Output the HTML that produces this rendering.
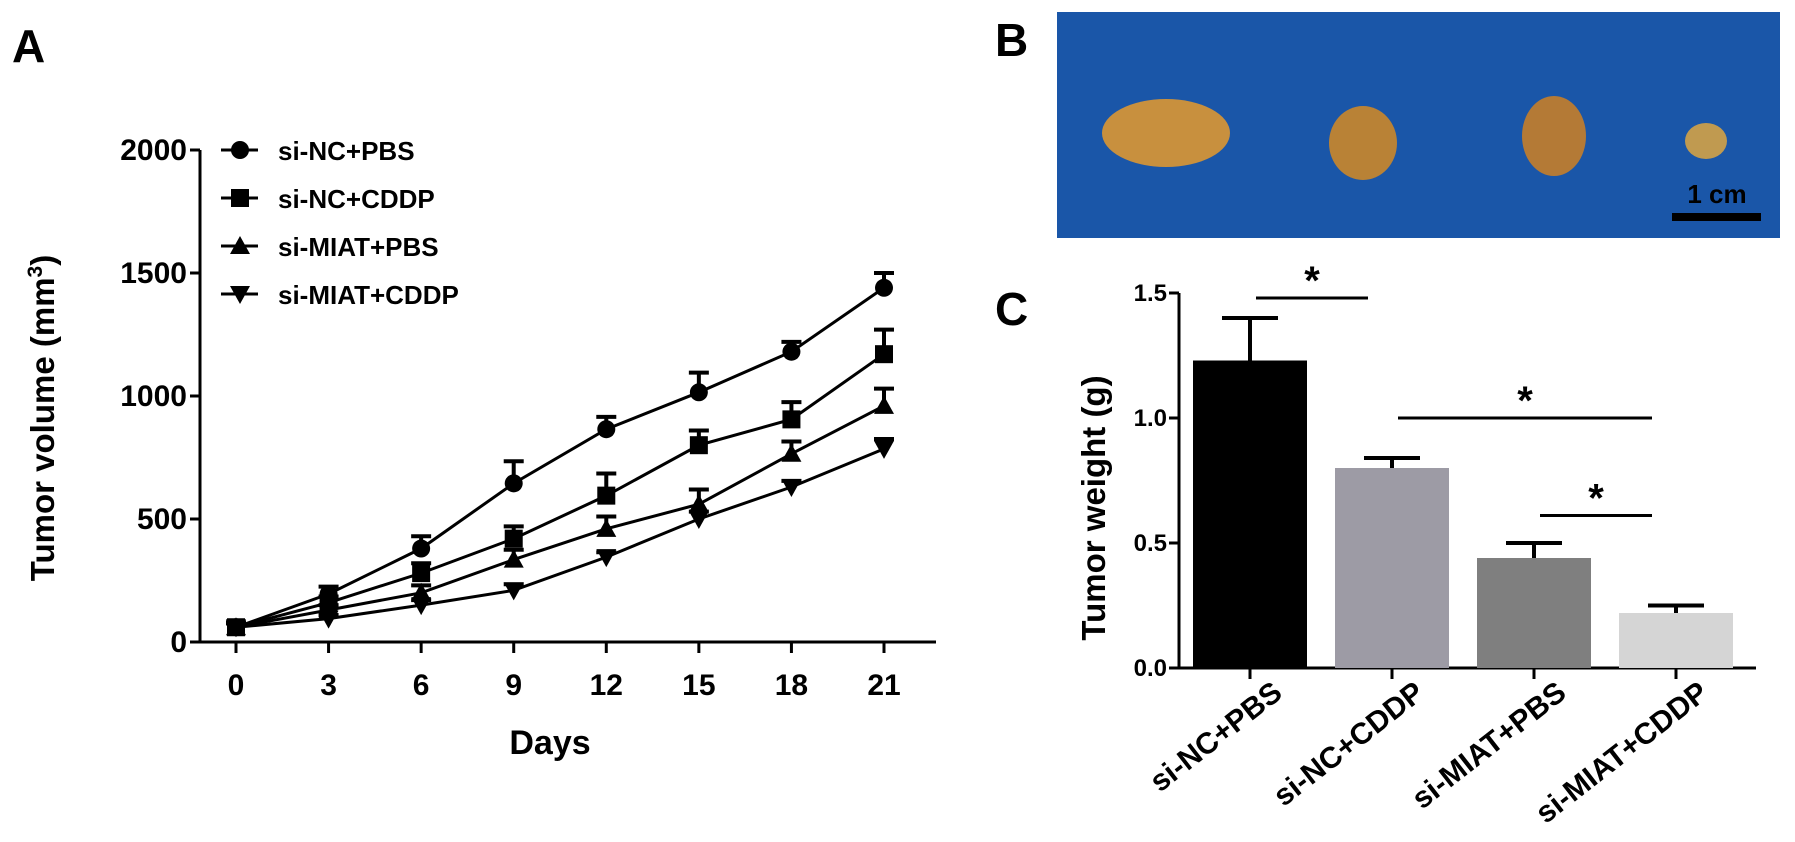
<!DOCTYPE html>
<html><head><meta charset="utf-8"><style>
html,body{margin:0;padding:0;background:#fff;}
svg{display:block;font-family:"Liberation Sans",Arial,sans-serif;font-weight:bold;}
</style></head><body>
<svg id="fig" width="1795" height="842" viewBox="0 0 1795 842">
<text x="12" y="62" font-size="46">A</text>
<text x="995" y="56" font-size="46">B</text>
<text x="995" y="325" font-size="46">C</text>
<g id="chartA"></g>
<g id="photo">
<rect x="1057" y="12" width="723" height="226" fill="#1a56a8"/>
<ellipse cx="1166" cy="133" rx="64" ry="34" fill="#c8903e"/>
<ellipse cx="1363" cy="143" rx="34" ry="37" fill="#b98236"/>
<ellipse cx="1554" cy="136" rx="32" ry="40" fill="#b47a36"/>
<ellipse cx="1706" cy="141" rx="21" ry="18" fill="#c09a50"/>
<rect x="1672" y="213" width="89" height="8" fill="#000"/>
<text x="1717" y="203" font-size="26" text-anchor="middle">1 cm</text>
</g>
<g id="chartC"></g>
</svg>
<script>
const NS="http://www.w3.org/2000/svg";
function mk(p,tag,a){const e=document.createElementNS(NS,tag);for(const k in a)e.setAttribute(k,a[k]);p.appendChild(e);return e;}

// Panel A data
const days=[0,3,6,9,12,15,18,21];
const seriesNames=["si-NC+PBS","si-NC+CDDP","si-MIAT+PBS","si-MIAT+CDDP"];
const vNCPBS=[60,195,380,645,865,1015,1180,1440];
const eNCPBS=[20,30,50,90,50,80,40,60];
const vNCCDDP=[60,160,280,420,595,800,905,1170];
const eNCCDDP=[20,25,40,50,90,60,70,100];
const vMIATPBS=[60,130,200,335,460,560,765,960];
const eMIATPBS=[15,20,30,40,50,60,50,70];
const vMIATCDDP=[60,95,150,210,345,500,630,785];
const eMIATCDDP=[15,15,20,25,20,30,25,40];
const yTicksA=[0,500,1000,1500,2000];

// Panel C data
const groups=["si-NC+PBS","si-NC+CDDP","si-MIAT+PBS","si-MIAT+CDDP"];
const weights=[1.23,0.80,0.44,0.22];
const weightErr=[0.17,0.04,0.06,0.03];
const yTicksC=[0.0,0.5,1.0,1.5];
const sigPairs=[[0,1],[1,3],[2,3]];
const sigY=[1.48,1.0,0.61];

// ---- Panel A ----
(function(){
const g=document.getElementById('chartA');
const X=d=>236+(d-0)/21*(884-236);
const Y=v=>642-v/2000*(642-150);
const ax=mk(g,'path',{d:'M200,150 V642 H936',stroke:'#000','stroke-width':3,fill:'none'});


yTicksA.forEach(t=>{
 const l=mk(g,'line',{x1:190,x2:200,y1:Y(t),y2:Y(t),stroke:'#000','stroke-width':3});
 
 
 const tx=mk(g,'text',{x:187,y:Y(t)+10,'font-size':30,'text-anchor':'end'});
 tx.textContent=t;
 
 
});
days.forEach(d=>{
 const l=mk(g,'line',{x1:X(d),x2:X(d),y1:642,y2:653,stroke:'#000','stroke-width':3});
 
 
 const tx=mk(g,'text',{x:X(d),y:695,'font-size':30,'text-anchor':'middle'});
 tx.textContent=d;
 
 
});
const xt=mk(g,'text',{x:550,y:754,'font-size':34,'text-anchor':'middle'});
xt.textContent='Days';


const yt=mk(g,'text',{x:0,y:0,'font-size':33,'text-anchor':'middle',transform:'translate(54,418) rotate(-90)'});
yt.innerHTML='Tumor volume (mm<tspan font-size="21" dy="-12">3</tspan><tspan dy="12">)</tspan>';


function marker(p,shape,x,y){
 let e;
 if(shape==0)e=mk(p,'circle',{cx:x,cy:y,r:9,fill:'#000'});
 else if(shape==1)e=mk(p,'rect',{x:x-9,y:y-9,width:18,height:18,fill:'#000'});
 else if(shape==2)e=mk(p,'path',{d:`M${x},${y-10} L${x+10},${y+8} L${x-10},${y+8}Z`,fill:'#000'});
 else e=mk(p,'path',{d:`M${x},${y+10} L${x+10},${y-8} L${x-10},${y-8}Z`,fill:'#000'});
 return e;
}
const vals=[vNCPBS,vNCCDDP,vMIATPBS,vMIATCDDP];
const errs=[eNCPBS,eNCCDDP,eMIATPBS,eMIATCDDP];
vals.forEach((v,si)=>{
 const sg=mk(g,'g',{});
 
 
 mk(sg,'polyline',{points:v.map((y,i)=>X(days[i])+','+Y(y)).join(' '),fill:'none',stroke:'#000','stroke-width':3});
 v.forEach((y,i)=>{
  const top=Y(y+errs[si][i]);
  mk(sg,'path',{d:`M${X(days[i])},${Y(y)} V${top} M${X(days[i])-10},${top} H${X(days[i])+10}`,stroke:'#000','stroke-width':4,fill:'none'});
  const m=marker(sg,si,X(days[i]),Y(y));
  
  
 });
 const ly=150+si*48;
 const le=mk(g,'g',{});
 
 
 mk(le,'line',{x1:221,x2:258,y1:ly,y2:ly,stroke:'#000','stroke-width':3});
 marker(le,si,240,ly);
 const t=mk(le,'text',{x:278,y:ly+10,'font-size':26});
 t.textContent=seriesNames[si];
});
})();

// ---- Panel C ----
(function(){
const g=document.getElementById('chartC');
const Y=v=>668-v/1.5*(668-293);
const X=i=>1250+i*142;
const colors=['#000000','#9d9ba5','#7f7f7f','#d5d5d5'];
const ax=mk(g,'path',{d:'M1179,293 V668 H1756',stroke:'#000','stroke-width':3,fill:'none'});


yTicksC.forEach(t=>{
 const l=mk(g,'line',{x1:1169,x2:1179,y1:Y(t),y2:Y(t),stroke:'#000','stroke-width':3});
 
 
 const tx=mk(g,'text',{x:1167,y:Y(t)+8,'font-size':24,'text-anchor':'end'});
 tx.textContent=t.toFixed(1);
 
 
});
const yt=mk(g,'text',{x:0,y:0,'font-size':33,'text-anchor':'middle',transform:'translate(1105,508) rotate(-90)'});
yt.textContent='Tumor weight (g)';


weights.forEach((w,i)=>{
 const cx=X(i);
 const e=mk(g,'path',{d:`M${cx},${Y(w)} V${Y(w+weightErr[i])} M${cx-28},${Y(w+weightErr[i])} H${cx+28}`,stroke:'#000','stroke-width':4,fill:'none'});
 
 
 const b=mk(g,'rect',{x:cx-57,y:Y(w),width:114,height:668-Y(w),fill:colors[i]});
 
 
 const l=mk(g,'line',{x1:cx,x2:cx,y1:668,y2:679,stroke:'#000','stroke-width':3});
 
 
 const tx=mk(g,'text',{x:cx+34,y:696,'font-size':30,'text-anchor':'end',transform:`rotate(-38 ${cx+34} 696)`});
 tx.textContent=groups[i];
 
 
});
sigPairs.forEach((p,k)=>{
 const y=Y(sigY[k]);
 const x1=X(p[0])+6,x2=X(p[1])-24;
 const l=mk(g,'line',{x1:x1,x2:x2,y1:y,y2:y,stroke:'#000','stroke-width':3});
 
 
 const s=mk(g,'text',{x:(x1+x2)/2,y:y-4,'font-size':40,'text-anchor':'middle'});
 s.textContent='*';
 
 
});
})();
</script>
</body></html>
